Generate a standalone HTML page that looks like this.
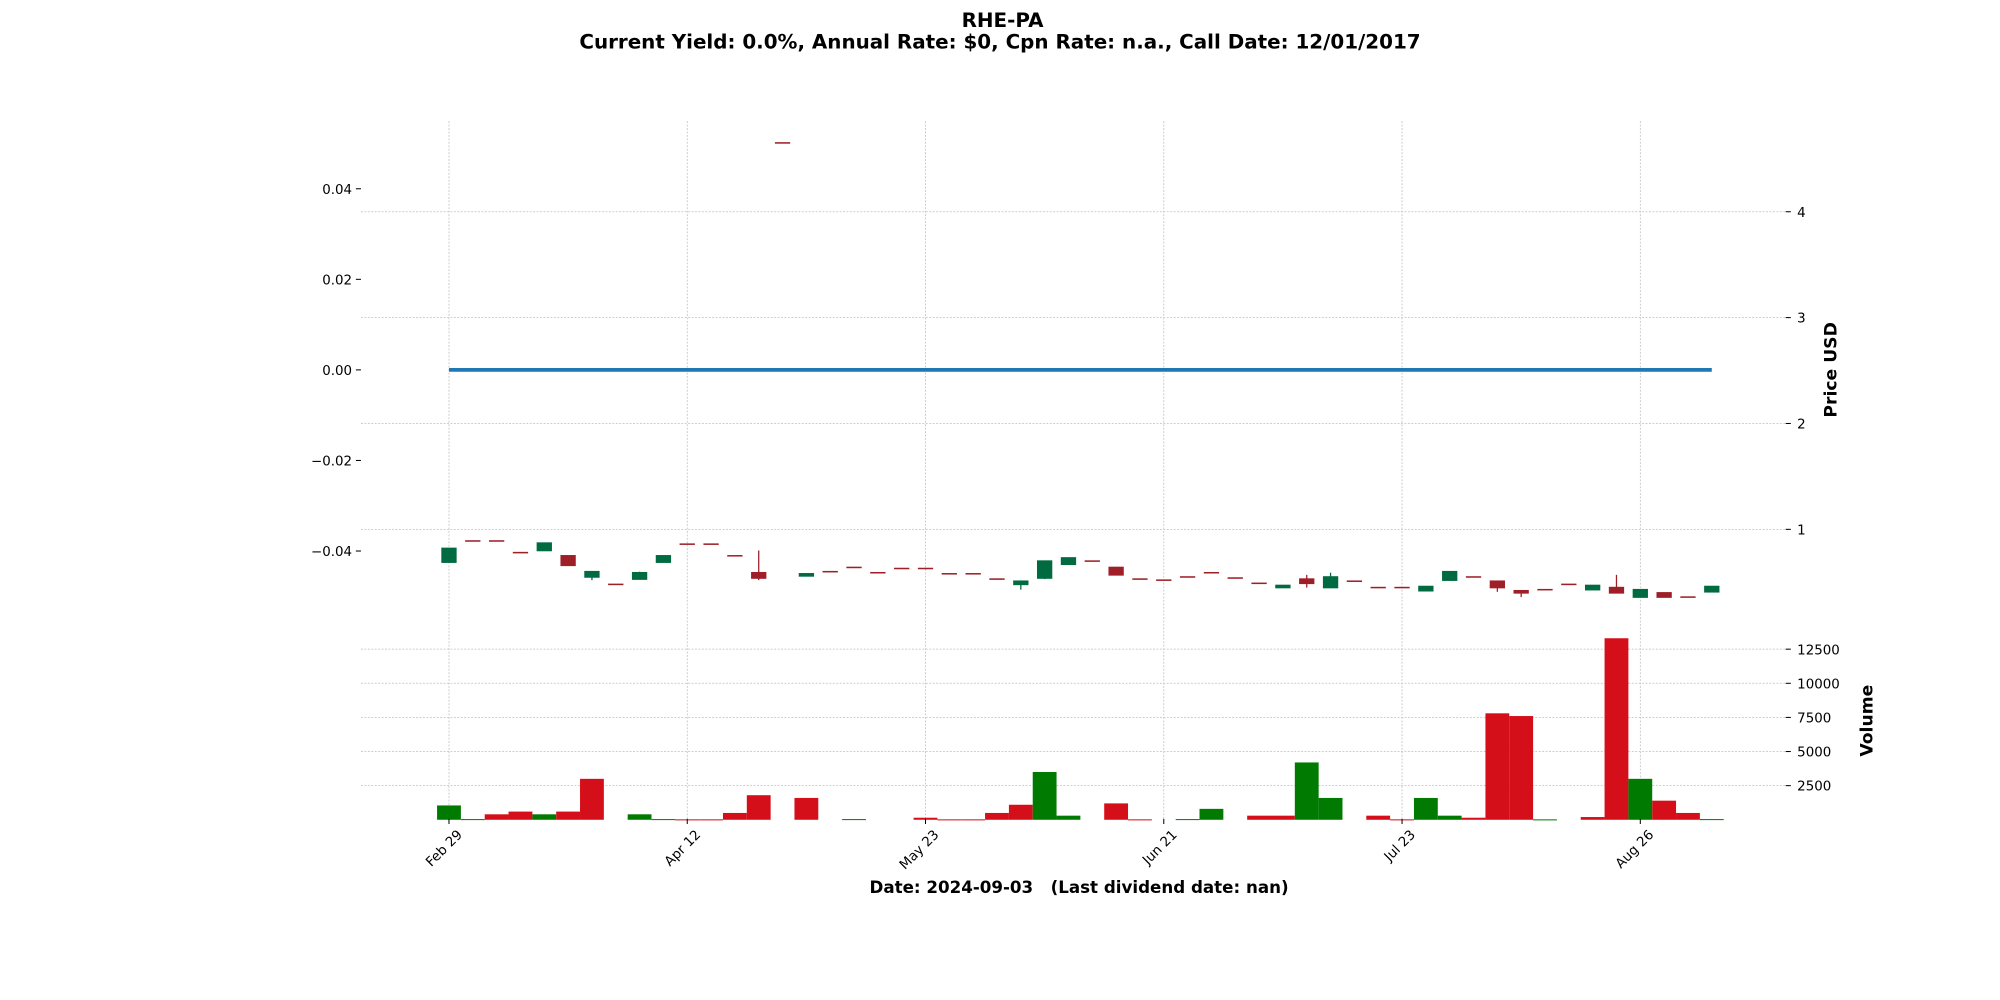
<!DOCTYPE html>
<html><head><meta charset="utf-8"><style>
html,body{margin:0;padding:0;background:#fff;}
svg{display:block;font-family:"DejaVu Sans","Liberation Sans",sans-serif;}
text{white-space:pre;}
</style></head><body>
<svg id="chart" width="2000" height="1000" viewBox="0 0 1568 784" xmlns="http://www.w3.org/2000/svg">
<text x="786" y="21" text-anchor="middle" font-size="15.6" font-weight="bold">RHE-PA</text>
<text x="784" y="38" text-anchor="middle" font-size="15.6" font-weight="bold">Current Yield: 0.0%, Annual Rate: $0, Cpn Rate: n.a., Call Date: 12/01/2017</text>
<text transform="translate(1440,290) rotate(-90)" text-anchor="middle" font-size="13.5" font-weight="bold">Price USD</text>
<text transform="translate(1468,565) rotate(-90)" text-anchor="middle" font-size="13.5" font-weight="bold">Volume</text>
<text x="846" y="700" text-anchor="middle" font-size="13.1" font-weight="bold" xml:space="preserve">Date: 2024-09-03   (Last dividend date: nan)</text>
<g id="grid"></g><g id="marks"></g><g id="axes"></g>
</svg>
<script>
const dateLabels=["Feb 29","Apr 12","May 23","Jun 21","Jul 23","Aug 26"];
const dateTickIdx=[0,10,20,30,40,50];
const leftTicks=[0.04,0.02,0.00,-0.02,-0.04];
const leftTickLabels=["0.04","0.02","0.00","\u22120.02","\u22120.04"];
const priceTicks=[1,2,3,4];
const volTicks=[2500,5000,7500,10000,12500];
const opens=[0.69,0.89,0.89,0.78,0.80,0.75,0.55,0.48,0.53,0.69,0.86,0.86,0.75,0.59,4.65,0.56,0.60,0.64,0.59,0.63,0.63,0.58,0.58,0.53,0.48,0.54,0.67,0.70,0.64,0.53,0.52,0.55,0.59,0.54,0.49,0.45,0.53,0.45,0.51,0.45,0.45,0.42,0.52,0.55,0.51,0.42,0.43,0.48,0.43,0.45,0.36,0.40,0.36,0.41];
const closes=[0.82,0.89,0.89,0.78,0.87,0.66,0.60,0.48,0.59,0.75,0.86,0.86,0.75,0.54,4.65,0.58,0.60,0.64,0.59,0.63,0.63,0.58,0.58,0.53,0.51,0.70,0.73,0.70,0.57,0.53,0.52,0.55,0.59,0.54,0.49,0.47,0.49,0.55,0.51,0.45,0.45,0.46,0.60,0.55,0.45,0.40,0.43,0.48,0.47,0.40,0.43,0.36,0.36,0.46];
const highs=[0.82,0.89,0.89,0.78,0.87,0.75,0.60,0.48,0.60,0.75,0.86,0.86,0.75,0.80,4.65,0.58,0.60,0.64,0.59,0.63,0.63,0.58,0.58,0.53,0.51,0.70,0.73,0.70,0.64,0.53,0.52,0.55,0.59,0.54,0.49,0.47,0.57,0.59,0.51,0.45,0.45,0.46,0.60,0.55,0.51,0.42,0.43,0.48,0.47,0.57,0.43,0.40,0.36,0.46];
const lows=[0.69,0.89,0.89,0.78,0.80,0.66,0.52,0.48,0.53,0.69,0.86,0.86,0.75,0.52,4.65,0.56,0.60,0.64,0.59,0.63,0.63,0.58,0.58,0.53,0.43,0.53,0.67,0.70,0.57,0.53,0.52,0.55,0.59,0.54,0.49,0.45,0.45,0.45,0.51,0.45,0.45,0.42,0.52,0.55,0.41,0.36,0.43,0.48,0.43,0.40,0.36,0.36,0.36,0.41];
const volumes=[1050,50,400,600,400,600,3000,0,400,50,30,30,500,1800,0,1600,0,50,0,0,150,30,30,500,1100,3500,300,0,1200,30,0,50,800,0,300,300,4200,1600,0,300,30,1600,300,150,7800,7600,30,0,200,13300,3000,1400,500,50];
const volUp=[1,1,0,0,1,0,0,0,1,1,0,0,0,0,0,0,0,1,0,0,0,0,0,0,0,1,1,0,0,0,0,1,1,0,0,0,1,1,0,0,0,1,1,0,0,0,1,0,0,0,1,0,0,1];
const yieldLine=[0,0];

const NS="http://www.w3.org/2000/svg";
const X0=352,STEP=18.68,PL=283,PR=1400,PT=95,PB=485,VT=485,VB=642;
const xs=i=>X0+i*STEP;
const yLeft=v=>290-v*3550;
const yPrice=p=>415-(p-1)*83;
const yVol=v=>642.7-v*0.0107;
function mk(tag,attrs,parent){const e=document.createElementNS(NS,tag);for(const k in attrs)e.setAttribute(k,attrs[k]);parent.appendChild(e);return e;}
const grid=document.getElementById('grid'),marks=document.getElementById('marks'),axes=document.getElementById('axes');
const dash={stroke:"#bdbdbd","stroke-width":0.6,"stroke-dasharray":"1.5,1.2"};
priceTicks.forEach(p=>{const y=yPrice(p);
 const g=mk('line',Object.assign({x1:PL,x2:PR,y1:y,y2:y},dash),grid);
 
 
 mk('line',{x1:PR,x2:PR+4,y1:y,y2:y,stroke:"#000","stroke-width":0.8},axes);
 const t=mk('text',{x:PR+9,y:y+4,"font-size":10.5},axes);t.textContent=p;
 
 
});
volTicks.forEach(v=>{const y=yVol(v);
 const g=mk('line',Object.assign({x1:PL,x2:PR,y1:y,y2:y},dash),grid);
 
 
 mk('line',{x1:PR,x2:PR+4,y1:y,y2:y,stroke:"#000","stroke-width":0.8},axes);
 const t=mk('text',{x:PR+9,y:y+4,"font-size":10.5},axes);t.textContent=v;
 
 
});
leftTicks.forEach((v,i)=>{const y=yLeft(v);
 mk('line',{x1:PL-4,x2:PL,y1:y,y2:y,stroke:"#000","stroke-width":0.8},axes);
 const t=mk('text',{x:PL-7,y:y+4,"font-size":10.5,"text-anchor":"end"},axes);t.textContent=leftTickLabels[i];
 
 
});
dateTickIdx.forEach((d,i)=>{const x=xs(d);
 const g=mk('line',Object.assign({x1:x,x2:x,y1:PT,y2:VB},dash),grid);
 
 
 mk('line',{x1:x,x2:x,y1:VB,y2:VB+4,stroke:"#000","stroke-width":0.8},axes);
 const t=mk('text',{transform:`translate(${x+11},${VB+13}) rotate(-45)`,"font-size":10.5,"text-anchor":"end"},axes);t.textContent=dateLabels[i];
 
 
});
const yl=mk('line',{x1:xs(0),x2:xs(opens.length-1),y1:yLeft(yieldLine[0]),y2:yLeft(yieldLine[1]),stroke:"#1f77b4","stroke-width":3},marks);


opens.forEach((o,i)=>{const c=closes[i],x=xs(i),col=c>o?"#006a40":"#9e1f27";
 const w=mk('line',{x1:x,x2:x,y1:yPrice(highs[i]),y2:yPrice(lows[i]),stroke:col,"stroke-width":1},marks);
 
 
 const top=yPrice(Math.max(o,c)),bot=yPrice(Math.min(o,c));
 const b=mk('rect',{x:x-6,y:top-0.6,width:12,height:Math.max(bot-top,0)+1.2,fill:col},marks);
 
 
});
volumes.forEach((v,i)=>{if(v<=0)return;const x=xs(i);
 const r=mk('rect',{x:x-STEP/2,y:yVol(v),width:STEP,height:Math.max(642.7-yVol(v),0.8),fill:volUp[i]?"#007a00":"#d40f19"},marks);
 
 
});
</script>
</body></html>
